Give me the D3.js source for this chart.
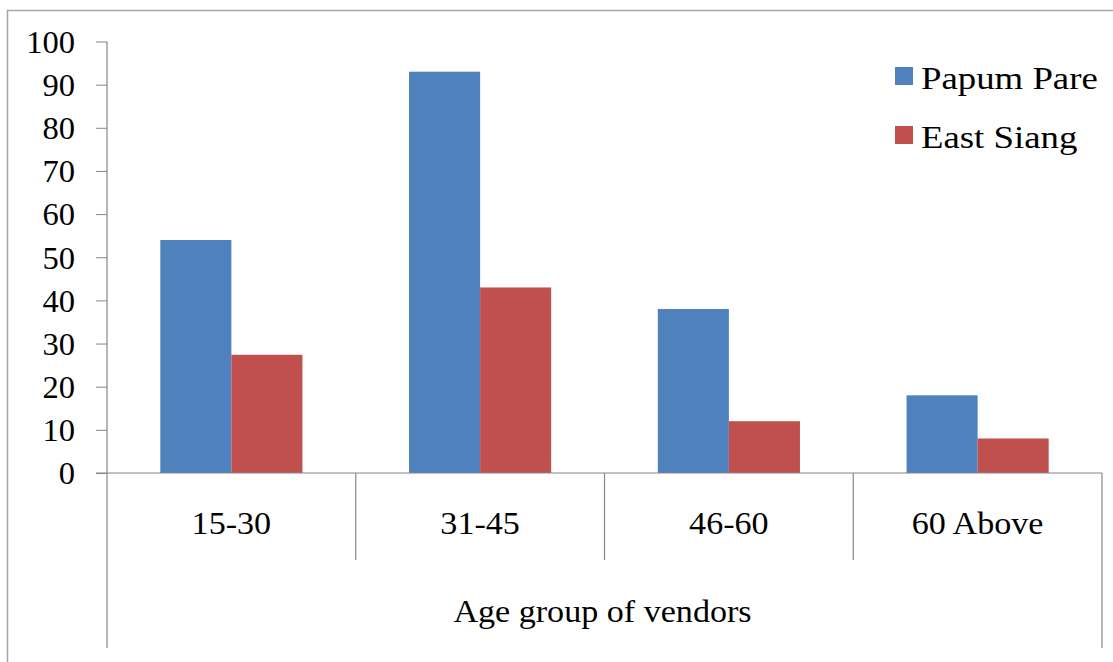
<!DOCTYPE html>
<html>
<head>
<meta charset="utf-8">
<script src="https://cdn.jsdelivr.net/npm/d3@7"></script>
</head>
<body style="margin:0; background:#fff">
<div id="chart"></div>
<script>
const width = 1113
const height = 662

const categories = ["15-30", "31-45", "46-60", "60 Above"]
const seriesNames = ["Papum Pare", "East Siang"]
const papumPare = [54, 93, 38, 18]
const eastSiang = [27.4, 43, 12, 8]
const yTicks = [0, 10, 20, 30, 40, 50, 60, 70, 80, 90, 100]
const axisTitle = "Age group of vendors"
const colors = ["#4F81BD", "#C0504D"]

// letter-spacing makes the renderer drop the serif face, so text is widened with a scale instead
const serif = "'Liberation Serif'"

const margin = {
    top: 41.5,
    left: 107,
    right: 11,
    axisY: 473
}

const svg = d3.select("#chart").append("svg").attr("width", width).attr("height", height)

// outer chart frame (right / bottom edges fall outside the picture)
svg.append("rect")
    .attr("x", 7.5).attr("y", 10.5)
    .attr("width", width + 10).attr("height", height + 10)
    .attr("fill", "none").attr("stroke", "#a6a6a6").attr("stroke-width", 1.5)

const x = d3.scaleBand().domain(categories).range([margin.left, width - margin.right]).padding(0)
const x1 = d3.scaleBand().domain(seriesNames).range([0, x.bandwidth()]).paddingInner(0).paddingOuter(0.75)
const y = d3.scaleLinear().domain([0, 100]).range([margin.axisY, margin.top])

const axisColor = "#868686"

// y axis
const yAxisGroup = svg.append("g").attr("transform", `translate(${margin.left}, 0)`)
yAxisGroup.call(d3.axisLeft(y).tickValues(yTicks).tickSize(11).tickPadding(20).tickSizeOuter(0))
yAxisGroup.select(".domain").remove()
yAxisGroup.selectAll(".tick line").attr("stroke", axisColor)
yAxisGroup.selectAll(".tick text")
    .attr("x", 0)
    .attr("transform", "translate(-32, 0) scale(1.05, 1)")
    .style("font-family", serif)
    .attr("font-size", 31)
    .attr("fill", "#000")
    .attr("dy", "0.35em")

// bars
const data = categories.map((c, i) => ({ category: c, values: [papumPare[i], eastSiang[i]] }))
const groups = svg.append("g").selectAll("g").data(data).enter().append("g")
    .attr("transform", d => `translate(${x(d.category)}, 0)`)
groups.selectAll("rect").data(d => d.values.map((v, j) => ({ name: seriesNames[j], value: v, color: colors[j] })))
    .enter().append("rect")
    .attr("x", d => x1(d.name))
    .attr("y", d => y(d.value))
    .attr("width", x1.bandwidth())
    .attr("height", d => y(0) - y(d.value))
    .attr("fill", d => d.color)

// x axis with multi-level category frame
const axisGroup = svg.append("g").attr("stroke", axisColor).attr("stroke-width", 1.2)
axisGroup.append("line")
    .attr("x1", margin.left - 11).attr("x2", x.range()[1])
    .attr("y1", y(0)).attr("y2", y(0))
axisGroup.append("line")
    .attr("x1", margin.left).attr("x2", margin.left)
    .attr("y1", y(100)).attr("y2", 648)
axisGroup.append("line")
    .attr("x1", x.range()[1]).attr("x2", x.range()[1])
    .attr("y1", y(0)).attr("y2", 648)
axisGroup.selectAll(".divider").data(categories.slice(1)).enter().append("line")
    .attr("class", "divider")
    .attr("x1", d => x(d)).attr("x2", d => x(d))
    .attr("y1", y(0)).attr("y2", 560)

svg.append("g").selectAll("text").data(categories).enter().append("text")
    .attr("transform", d => `translate(${x(d) + x.bandwidth() / 2}, 534) scale(1.1, 1)`)
    .attr("text-anchor", "middle")
    .style("font-family", serif)
    .attr("font-size", 31)
    .text(d => d)

svg.append("text")
    .attr("transform", `translate(${(x.range()[0] + x.range()[1]) / 2 - 2}, 622) scale(1.1, 1)`)
    .attr("text-anchor", "middle")
    .style("font-family", serif)
    .attr("font-size", 31)
    .text(axisTitle)

// legend
const legend = svg.append("g").attr("transform", "translate(895, 67)")
const legendItems = legend.selectAll("g").data(seriesNames).enter().append("g")
    .attr("transform", (d, i) => `translate(0, ${i * 59})`)
legendItems.append("rect")
    .attr("width", 18).attr("height", 18)
    .attr("fill", (d, i) => colors[i])
legendItems.append("text")
    .attr("transform", "translate(26, 22) scale(1.15, 1)")
    .style("font-family", serif)
    .attr("font-size", 32)
    .text(d => d)
</script>
</body>
</html>
